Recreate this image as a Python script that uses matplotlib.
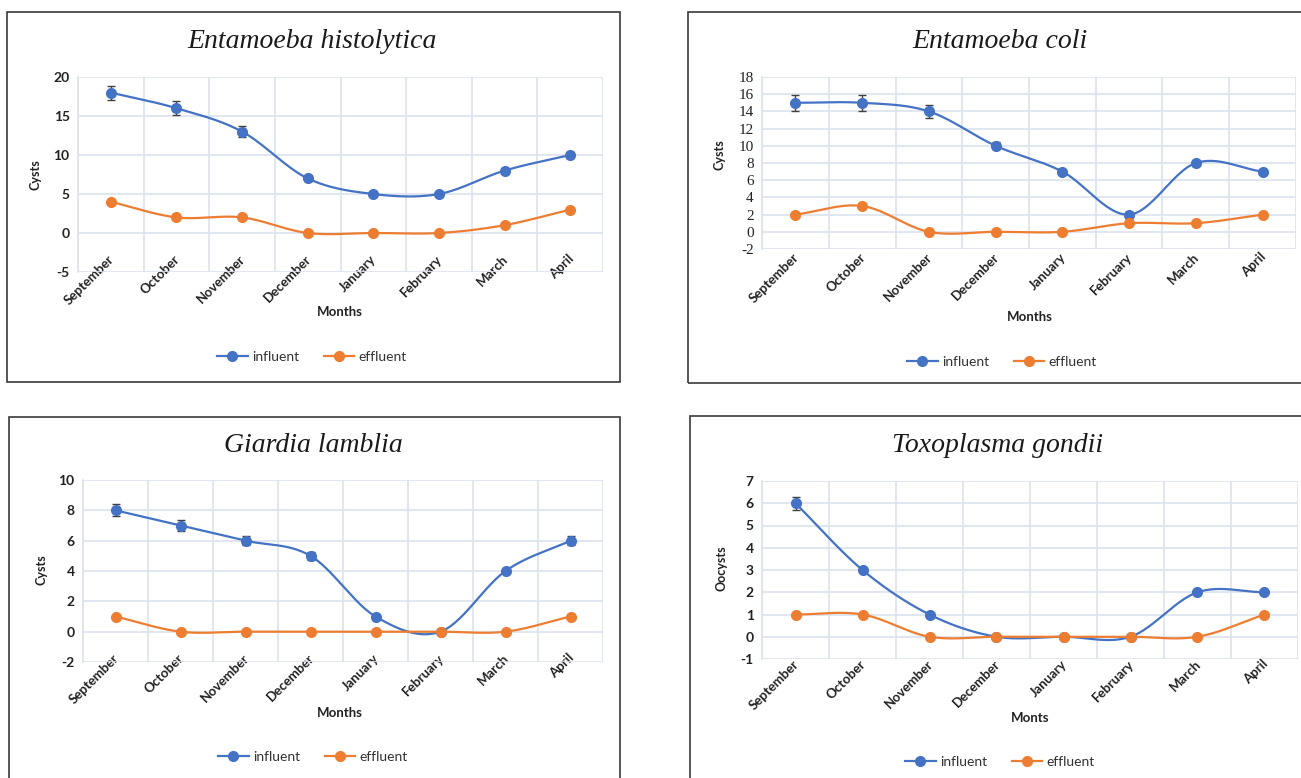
import numpy as np
import matplotlib
matplotlib.use("Agg")
import matplotlib.pyplot as plt
from matplotlib.patches import Rectangle
from matplotlib.transforms import ScaledTranslation
from matplotlib.lines import Line2D

plt.rcParams["axes.unicode_minus"] = False

months = ["September", "October", "November", "December", "January", "February", "March", "April"]

histo_in = [18, 16, 13, 7, 5, 5, 8, 10]
histo_out = [4, 2, 2, 0, 0, 0, 1, 3]
histo_err = [0.9, 0.9, 0.7, 0.3, 0.3, 0.3, 0.3, 0.4]

coli_in = [15, 15, 14, 10, 7, 2, 8, 7]
coli_out = [2, 3, 0, 0, 0, 1, 1, 2]
coli_err = [0.9, 0.9, 0.8, 0.4, 0.3, 0.3, 0.3, 0.3]

giardia_in = [8, 7, 6, 5, 1, 0, 4, 6]
giardia_out = [1, 0, 0, 0, 0, 0, 0, 1]
giardia_err = [0.4, 0.35, 0.3, 0.25, 0.1, 0.1, 0.15, 0.3]

toxo_in = [6, 3, 1, 0, 0, 0, 2, 2]
toxo_out = [1, 1, 0, 0, 0, 0, 0, 1]
toxo_err = [0.3, 0.1, 0.08, 0.05, 0.05, 0.05, 0.08, 0.08]

BLUE = "#4472C4"
ORANGE = "#ED7D31"
GRID = "#DCE3EE"

W, H = 1301, 778
fig = plt.figure(figsize=(W / 100, H / 100), dpi=100)


def px(x0, y0, x1, y1):
    return [x0 / W, 1 - y1 / H, (x1 - x0) / W, (y1 - y0) / H]


def smooth(y, n=30):
    # Excel-style smoothed line (Catmull-Rom through the points)
    y = np.asarray(y, float)
    x = np.arange(len(y), dtype=float)
    p = np.concatenate([[2 * y[0] - y[1]], y, [2 * y[-1] - y[-2]]])
    xs, ys = [], []
    for i in range(len(y) - 1):
        p0, p1, p2, p3 = p[i], p[i + 1], p[i + 2], p[i + 3]
        t = np.linspace(0, 1, n, endpoint=False)
        m1 = (p2 - p0) / 2
        m2 = (p3 - p1) / 2
        h00 = 2 * t**3 - 3 * t**2 + 1
        h10 = t**3 - 2 * t**2 + t
        h01 = -2 * t**3 + 3 * t**2
        h11 = t**3 - t**2
        xs.append(x[i] + t)
        ys.append(h00 * p1 + h10 * m1 + h01 * p2 + h11 * m2)
    xs.append([x[-1]])
    ys.append([y[-1]])
    return np.concatenate(xs), np.concatenate(ys)


paneles = [
    dict(box=(7, 12, 620, 382), ax=(78, 77, 603, 272), title="Entamoeba histolytica",
         tc=(312, 42), inf=histo_in, eff=histo_out, err=histo_err, ylim=(-5, 20), step=5,
         ylab="Cysts", yl=(35, 175), xlab="Months", xl=(340, 312), leg=(312, 357),
         dy=-24, yfont="Lato"),
    dict(box=(688, 12, 1310, 383), ax=(762, 77, 1296, 249), title="Entamoeba coli",
         tc=(1000, 42), inf=coli_in, eff=coli_out, err=coli_err, ylim=(-2, 18), step=2,
         ylab="Cysts", yl=(720, 155), xlab="Months", xl=(1030, 317), leg=(1002, 362),
         dy=-3, yfont="Liberation Serif"),
    dict(box=(9, 417, 620, 800), ax=(83, 480, 603, 662), title="Giardia lamblia",
         tc=(313, 445), inf=giardia_in, eff=giardia_out, err=giardia_err, ylim=(-2, 10), step=2,
         ylab="Cysts", yl=(42, 570), xlab="Months", xl=(340, 713), leg=(313, 757),
         dy=-15, yfont="Lato"),
    dict(box=(690, 416, 1310, 800), ax=(762, 481, 1298, 659), title="Toxoplasma gondii",
         tc=(998, 446), inf=toxo_in, eff=toxo_out, err=toxo_err, ylim=(-1, 7), step=1,
         ylab="Oocysts", yl=(722, 568), xlab="Monts", xl=(1030, 718), leg=(1000, 762),
         dy=-6, yfont="Lato"),
]

for p in paneles:
    bx0, by0, bx1, by1 = p["box"]
    fig.patches.append(Rectangle((bx0 / W, 1 - by1 / H), (bx1 - bx0) / W, (by1 - by0) / H,
                                 transform=fig.transFigure, fill=False, edgecolor="#3a3a3a",
                                 linewidth=1.2, zorder=0))

    ax = fig.add_axes(px(*p["ax"]))
    x = np.arange(len(months))
    ax.set_xlim(-0.5, len(months) - 0.5)
    ax.set_ylim(*p["ylim"])
    ax.set_yticks(np.arange(p["ylim"][0], p["ylim"][1] + 0.1, p["step"]))
    ax.set_xticks(x)
    ax.set_xticks(np.arange(-0.5, len(months), 1), minor=True)
    ax.grid(True, which="minor", axis="x", color=GRID, linewidth=1.2)
    ax.grid(True, which="major", axis="y", color=GRID, linewidth=1.2)
    ax.set_axisbelow(True)
    for s in ["top", "right", "bottom"]:
        ax.spines[s].set_visible(False)
    ax.spines["left"].set_color(GRID)
    ax.spines["left"].set_linewidth(1.2)
    ax.tick_params(length=0, which="both")

    ax.set_xticklabels(months, rotation=45, ha="right", va="top", rotation_mode="anchor",
                       fontsize=9.5, fontweight="bold", family="Lato", color="#222222")
    for lab in ax.get_xticklabels():
        lab.set_transform(lab.get_transform() + ScaledTranslation(-3 / 100, -p["dy"] / 100, fig.dpi_scale_trans))

    yw = "normal" if p["yfont"] == "Liberation Serif" else "bold"
    ys = 11 if p["yfont"] == "Liberation Serif" else 10
    for lab in ax.get_yticklabels():
        lab.set_fontfamily(p["yfont"])
        lab.set_fontweight(yw)
        lab.set_fontsize(ys)
        lab.set_color("#222222")
    ax.tick_params(axis="y", pad=6)

    sx, sy = smooth(p["inf"])
    ax.plot(sx, sy, color=BLUE, linewidth=1.6, zorder=3)
    ax.errorbar(x, p["inf"], yerr=p["err"], fmt="none", ecolor="#404040", elinewidth=1,
                capsize=3, capthick=1, zorder=4)
    ax.plot(x, p["inf"], "o", color=BLUE, markersize=7, zorder=5)
    sx, sy = smooth(p["eff"])
    ax.plot(sx, sy, color=ORANGE, linewidth=1.6, zorder=3)
    ax.plot(x, p["eff"], "o", color=ORANGE, markersize=7, zorder=5)

    tx, ty = p["tc"]
    fig.text(tx / W, 1 - ty / H, p["title"], ha="center", va="center", fontsize=20,
             family="Liberation Serif", style="italic", color="#1a1a1a")
    lx, ly = p["yl"]
    fig.text(lx / W, 1 - ly / H, p["ylab"], ha="center", va="center", rotation=90,
             fontsize=9, fontweight="bold", family="Lato", color="#222222")
    mx, my = p["xl"]
    fig.text(mx / W, 1 - my / H, p["xlab"], ha="center", va="center",
             fontsize=9.5, fontweight="bold", family="Lato", color="#222222")

    handles = [Line2D([], [], color=BLUE, marker="o", markersize=7, linewidth=1.6),
               Line2D([], [], color=ORANGE, marker="o", markersize=7, linewidth=1.6)]
    gx, gy = p["leg"]
    fig.legend(handles, ["influent", "effluent"], loc="center", ncol=2, frameon=False,
               bbox_to_anchor=(gx / W, 1 - gy / H), prop={"family": "Lato", "size": 10},
               handlelength=2.2, handletextpad=0.3, columnspacing=1.8, labelcolor="#333333")

fig.savefig("out.png", dpi=100)
